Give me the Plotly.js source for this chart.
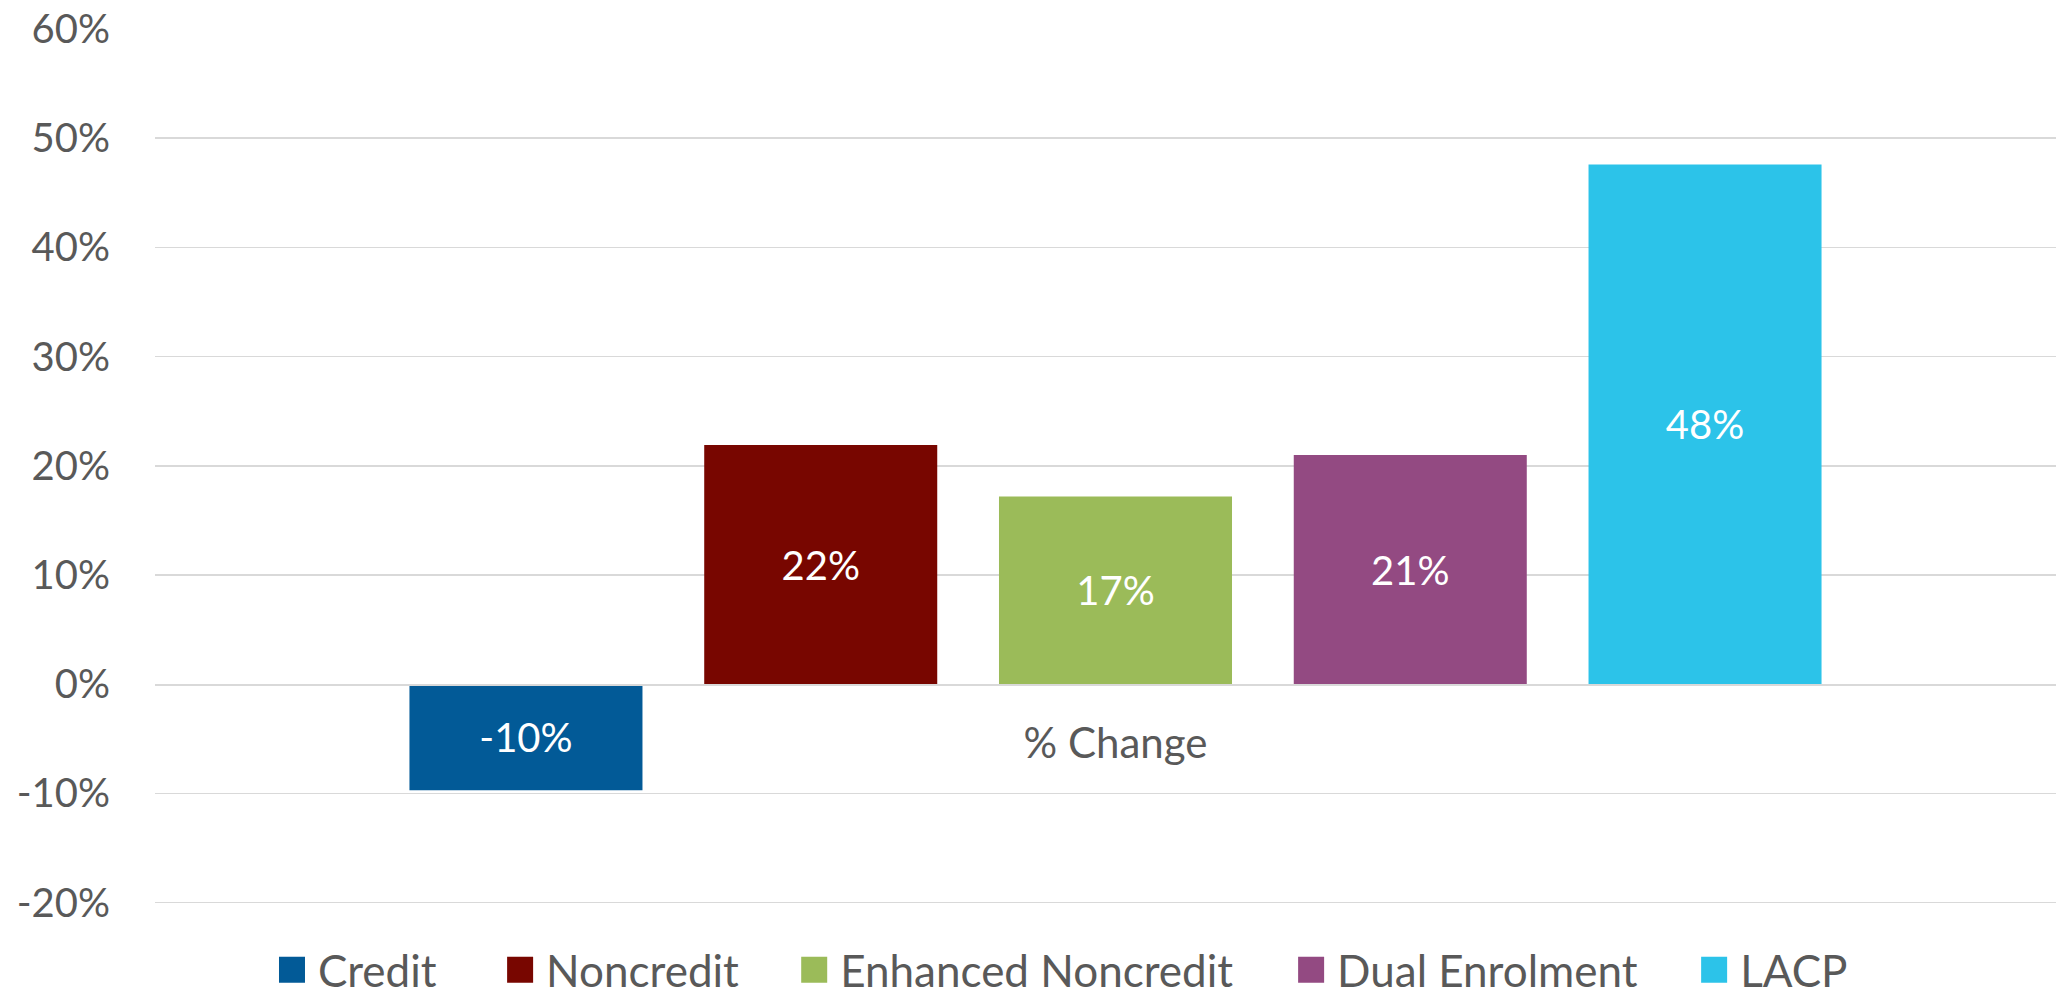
<!DOCTYPE html>
<html>
<head>
<meta charset="utf-8">
<script src="https://cdn.plot.ly/plotly-3.0.1.min.js"></script>
<style>
  html, body { margin: 0; padding: 0; background: #ffffff; }
  #chart { width: 2056px; height: 997px; }
</style>
</head>
<body>
<div id="chart"></div>
<script>
// ---- data ----
const categories = ['% Change'];
const seriesNames = ['Credit', 'Noncredit', 'Enhanced Noncredit', 'Dual Enrolment', 'LACP'];
const seriesValues = [-0.097, 0.219, 0.172, 0.210, 0.476];
const seriesColors = ['#025A97', '#780600', '#9BBB59', '#934A82', '#2CC3E9'];
const yTickValues = [-0.2, -0.1, 0, 0.1, 0.2, 0.3, 0.4, 0.5, 0.6];
const yTickLabels = ['-20%', '-10%', '0%', '10%', '20%', '30%', '40%', '50%', '60%'];

const FONT = 'Lato, "Open Sans", sans-serif';
const GREY = '#595959';

const pct = v => Math.round(v * 100) + '%';

const traces = seriesNames.map((name, i) => ({
  type: 'bar',
  x: categories,
  y: [seriesValues[i]],
  name: name,
  marker: { color: seriesColors[i], line: { width: 0 } },
  text: [pct(seriesValues[i])],
  texttemplate: '%{text}',
  textposition: 'inside',
  insidetextanchor: 'middle',
  textangle: 0,
  constraintext: 'none',
  textfont: { family: FONT, size: 40, color: '#ffffff' },
  hoverinfo: 'name+y',
  legend: i === 0 ? 'legend' : 'legend' + (i + 1)
}));

const legendX = [0.0647, 0.1847, 0.3394, 0.6008, 0.8128];

const layout = {
  width: 2056,
  height: 997,
  margin: { l: 155, r: 0, t: 29, b: 93, pad: 0, autoexpand: false },
  paper_bgcolor: '#ffffff',
  plot_bgcolor: '#ffffff',
  barmode: 'group',
  bargap: 0.2247,
  bargroupgap: 0.2095,
  font: { family: FONT, color: GREY },
  xaxis: {
    type: 'category',
    range: [-0.50526, 0.49474],
    anchor: 'free',
    position: 0.2512,
    showline: true,
    linecolor: '#d9d9d9',
    linewidth: 1.5,
    showgrid: false,
    zeroline: false,
    ticks: '',
    ticklabelstandoff: 22,
    tickfont: { family: FONT, size: 42, color: GREY },
    fixedrange: true
  },
  yaxis: {
    range: [-0.2012, 0.6],
    tickvals: yTickValues,
    ticktext: yTickLabels,
    showgrid: true,
    gridcolor: '#d9d9d9',
    gridwidth: 1.5,
    zeroline: false,
    showline: false,
    ticks: '',
    ticklabelstandoff: 44,
    tickfont: { family: FONT, size: 40, color: GREY },
    fixedrange: true
  },
  showlegend: true
};

legendX.forEach((lx, k) => {
  const key = k === 0 ? 'legend' : 'legend' + (k + 1);
  layout[key] = {
    orientation: 'h',
    x: lx,
    xanchor: 'left',
    y: -0.0757,
    yanchor: 'middle',
    bgcolor: 'rgba(0,0,0,0)',
    borderwidth: 0,
    font: { family: FONT, size: 44, color: GREY }
  };
});

Plotly.newPlot('chart', traces, layout, { displayModeBar: false, staticPlot: true }).then(gd => {
  // enlarge the legend swatches to match the reference's square keys
  gd.querySelectorAll('.legendpoints path').forEach(p => {
    p.setAttribute('d', 'M7,13H-19V-13H7Z');
  });
});
</script>
</body>
</html>
